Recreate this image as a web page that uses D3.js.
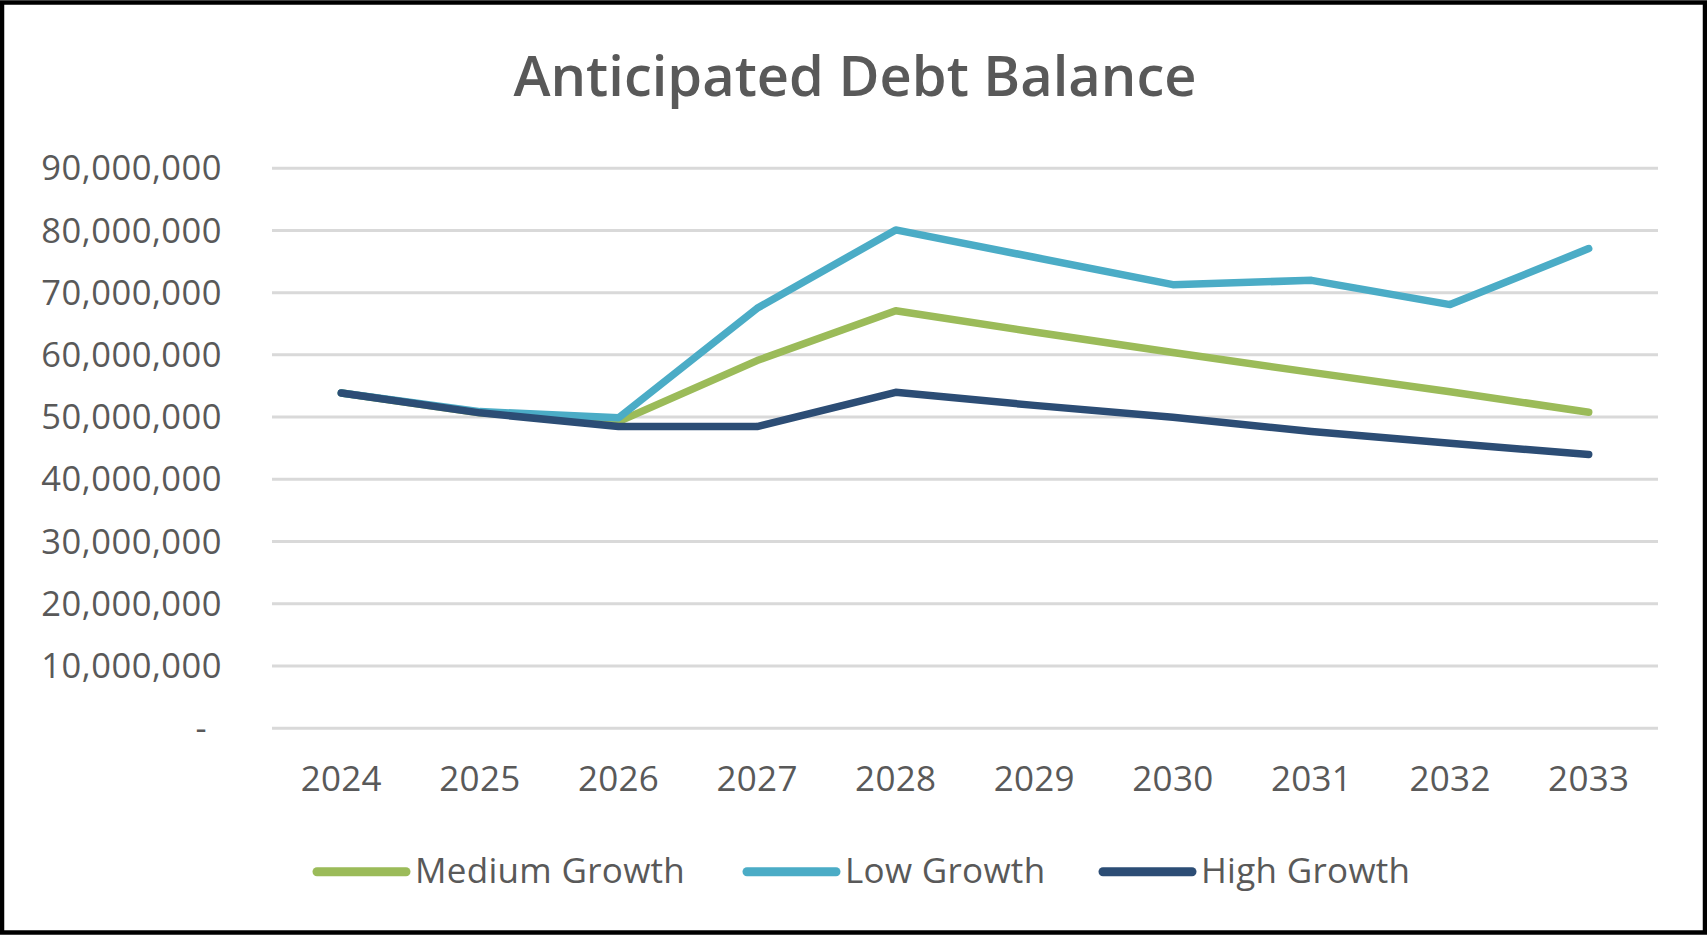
<!DOCTYPE html>
<html>
<head>
<meta charset="utf-8">
<script src="https://cdn.jsdelivr.net/npm/d3@7"></script>
<style>
  html, body { margin: 0; padding: 0; background: #fff; }
  svg { display: block; }
  text { font-family: "Open Sans", "Noto Sans", sans-serif; fill: #595959; }
</style>
</head>
<body>
<svg id="chart" width="1707" height="935"></svg>
<script>
const title = "Anticipated Debt Balance";
const years = ["2024","2025","2026","2027","2028","2029","2030","2031","2032","2033"];
const seriesNames = ["Medium Growth", "Low Growth", "High Growth"];
const seriesColors = ["#9BBB59", "#4BACC6", "#2C4D75"];
const mediumGrowth = [53800000, 50600000, 49200000, 59000000, 67000000, 63600000, 60300000, 57100000, 54000000, 50700000];
const lowGrowth    = [53800000, 50800000, 49800000, 67400000, 80000000, 75600000, 71200000, 71900000, 68000000, 77000000];
const highGrowth   = [53800000, 50600000, 48400000, 48400000, 53900000, 51800000, 49900000, 47600000, 45700000, 43900000];
const yTicks = [0, 10000000, 20000000, 30000000, 40000000, 50000000, 60000000, 70000000, 80000000, 90000000];

const seriesValues = [mediumGrowth, lowGrowth, highGrowth];

const svg = d3.select("#chart");
const W = 1707, H = 935;

// frame
svg.append("rect").attr("x", 2).attr("y", 2.5).attr("width", W - 4).attr("height", H - 5)
  .attr("fill", "#fff").attr("stroke", "#000").attr("stroke-width", 4.5);

const plot = { left: 272, right: 1658, top: 167.7, bottom: 727.7 };

const x = d3.scaleBand().domain(years).range([plot.left, plot.right]).paddingInner(0).paddingOuter(0);
const y = d3.scaleLinear().domain([0, 90000000]).range([plot.bottom, plot.top]);

// title
svg.append("text").attr("x", 855).attr("y", 96).attr("text-anchor", "middle")
  .style("font-size", "56px").style("font-weight", 600).text(title);

// gridlines
const grid = svg.append("g")
  .attr("transform", `translate(${plot.left},0)`)
  .call(d3.axisLeft(y).tickValues(yTicks).tickSize(-(plot.right - plot.left)).tickFormat(""));
grid.select(".domain").remove();
grid.selectAll(".tick line").attr("stroke", "#d9d9d9").attr("stroke-width", 3);

// y axis labels
const fmt = d3.format(",");
const yAxis = svg.append("g").attr("transform", `translate(${plot.left - 50},0)`)
  .call(d3.axisLeft(y).tickValues(yTicks).tickSize(0).tickPadding(0)
    .tickFormat(d => d === 0 ? "-" : fmt(d)));
yAxis.select(".domain").remove();
yAxis.selectAll(".tick text")
  .style("font-size", "34.5px").style("fill", "#595959")
  .style("letter-spacing", "0.5px")
  .attr("dy", "0.35em")
  .attr("dx", d => d === 0 ? -15 : 0);

// x axis labels
const xAxis = svg.append("g").attr("transform", `translate(0,${plot.bottom})`)
  .call(d3.axisBottom(x).tickSize(0).tickPadding(0));
xAxis.select(".domain").remove();
xAxis.selectAll(".tick text")
  .style("font-size", "35px").style("fill", "#595959")
  .style("letter-spacing", "0.3px")
  .attr("y", 63).attr("dy", 0);

// lines
const line = d3.line()
  .x((d, i) => x(years[i]) + x.bandwidth() / 2)
  .y(d => y(d));

seriesValues.forEach((vals, k) => {
  svg.append("path").datum(vals)
    .attr("d", line)
    .attr("fill", "none")
    .attr("stroke", seriesColors[k])
    .attr("stroke-width", 7.5)
    .attr("stroke-linejoin", "round")
    .attr("stroke-linecap", "round");
});

// legend
const legendX = [317, 747, 1103];
const legendY = 871.7;
seriesNames.forEach((name, k) => {
  const g = svg.append("g").attr("transform", `translate(${legendX[k]},${legendY})`);
  g.append("line").attr("x1", 0).attr("x2", 89).attr("y1", 0).attr("y2", 0)
    .attr("stroke", seriesColors[k]).attr("stroke-width", 9).attr("stroke-linecap", "round");
  g.append("text").attr("x", 98).attr("y", 11.5)
    .style("font-size", "35px").style("letter-spacing", "0.3px").text(name);
});
</script>
</body>
</html>
